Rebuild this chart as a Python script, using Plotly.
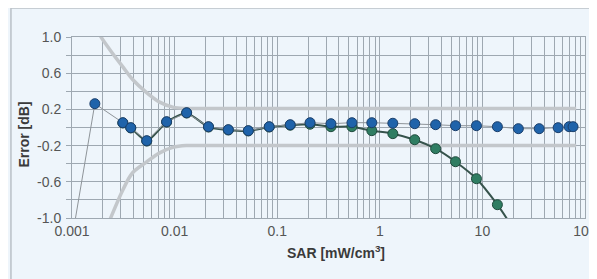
import plotly.graph_objects as go

# Data
blue_x = [0.00101, 0.00167, 0.00313, 0.00374, 0.00535, 0.00836, 0.0131, 0.0214, 0.0334, 0.0523,
          0.0836, 0.134, 0.209, 0.334, 0.535, 0.836, 1.34, 2.19, 3.50, 5.47, 8.75, 14.0,
          22.4, 35.8, 54.7, 70.0, 76.5]
blue_y = [-1.2, 0.263, 0.053, -0.002, -0.146, 0.064, 0.163, 0.009, -0.024, -0.035,
          0.009, 0.031, 0.053, 0.042, 0.053, 0.053, 0.047, 0.042, 0.031, 0.020, 0.020, 0.009,
          -0.013, -0.013, -0.002, 0.009, 0.009]

green_x = [0.00313, 0.00374, 0.00535, 0.00836, 0.0131, 0.0214, 0.0334, 0.0523, 0.0836, 0.134,
           0.209, 0.334, 0.535, 0.836, 1.34, 2.19, 3.50, 5.47, 8.75, 14.0, 22.4]
green_y = [0.050, -0.005, -0.150, 0.060, 0.160, 0.005, -0.028, -0.038, 0.005, 0.025,
           0.036, 0.009, 0.009, -0.035, -0.068, -0.135, -0.234, -0.378, -0.566, -0.853, -1.2]

env_x = [0.0017, 0.00183, 0.00234, 0.00313, 0.0039, 0.00534, 0.00715, 0.0096, 0.013, 0.02,
         0.1, 1, 10, 82]
env_upper = [1.15, 1.04, 0.86, 0.67, 0.53, 0.385, 0.28, 0.225, 0.21, 0.21, 0.21, 0.21, 0.21, 0.21]
env_lower = [-1.5, -1.3, -1.02, -0.69, -0.50, -0.38, -0.28, -0.22, -0.20, -0.20, -0.20, -0.20, -0.20, -0.20]

x_ticks = [m * 10 ** e for e in range(-3, 2) for m in range(1, 10)] + [100]
x_labels = {0.001: "0.001", 0.01: "0.01", 0.1: "0.1", 1: "1", 10: "10", 100: "100"}
y_ticks = [-1.0, -0.8, -0.6, -0.4, -0.2, 0.0, 0.2, 0.4, 0.6, 0.8, 1.0]
y_labels = {-1.0: "-1.0", -0.6: "-0.6", -0.2: "-0.2", 0.2: "0.2", 0.6: "0.6", 1.0: "1.0"}


def xlab(v):
    for k, s in x_labels.items():
        if abs(v - k) < 1e-9 * max(1, k):
            return s
    return " "


def ylab(v):
    for k, s in y_labels.items():
        if abs(v - k) < 1e-9:
            return s
    return " "


bg = "#eef5fb"
grid = "#9ea8b1"
fig = go.Figure()

fig.add_trace(go.Scatter(x=env_x, y=env_upper, mode="lines", line=dict(color="#c3c7cb", width=3.5),
                         line_shape="spline", hoverinfo="skip", showlegend=False))
fig.add_trace(go.Scatter(x=env_x, y=env_lower, mode="lines", line=dict(color="#c3c7cb", width=3.5),
                         line_shape="spline", hoverinfo="skip", showlegend=False))

fig.add_trace(go.Scatter(x=green_x, y=green_y, mode="lines+markers", line_shape="spline",
                         line=dict(color="#36534c", width=2, smoothing=0.6),
                         marker=dict(size=10, color="#2f7d62", opacity=1,
                                     line=dict(color="#1f4a3c", width=1)),
                         showlegend=False))
fig.add_trace(go.Scatter(x=blue_x, y=blue_y, mode="lines+markers",
                         line=dict(color="#8e9499", width=1),
                         marker=dict(size=[0] + [10] * (len(blue_x) - 1), color="#1f63aa", opacity=1,
                                     line=dict(color="#1a3e6a", width=1)),
                         showlegend=False))

# The page body adds an 8 px offset; the figure is sized so the plot area lands where the reference has it.
fig.update_layout(
    width=589, height=271,
    margin=dict(l=64, r=12, t=29, b=61),
    paper_bgcolor=bg, plot_bgcolor=bg,
    font=dict(family="Liberation Sans, Arial, sans-serif", color="#555555", size=14),
    xaxis=dict(type="log", range=[-3, 2], tickvals=x_ticks, ticktext=[xlab(v) for v in x_ticks],
               showgrid=True, gridcolor=grid, gridwidth=1, zeroline=False,
               showline=True, linecolor=grid, mirror=True, automargin=False,
               ticks="", tickangle=0),
    yaxis=dict(range=[-1.0, 1.0], tickvals=y_ticks, ticktext=[ylab(v) for v in y_ticks],
               showgrid=True, gridcolor=grid, gridwidth=1, zeroline=False,
               showline=True, linecolor=grid, mirror=True, automargin=False,
               ticks="outside", ticklen=5, tickcolor=grid, ticklabelstandoff=2),
    annotations=[
        dict(text="<b>Error [dB]</b>", xref="paper", yref="paper",
             x=-0.094, y=0.46, textangle=-90, showarrow=False,
             font=dict(size=14, color="#3a3a3a"), xanchor="center", yanchor="middle"),
        dict(text="<b>SAR [mW/cm<sup>3</sup>]</b>", xref="paper", yref="paper",
             x=0.5146, y=-0.19, showarrow=False,
             font=dict(size=14, color="#3a3a3a"), xanchor="center", yanchor="middle"),
    ],
    shapes=[dict(type="rect", xref="paper", yref="paper",
                 x0=-0.119, x1=1.2, y0=-0.6, y1=1.16,
                 line=dict(color="#b9c0c6", width=1.5), fillcolor="rgba(0,0,0,0)", layer="below")],
)

fig.write_html("out.html")
